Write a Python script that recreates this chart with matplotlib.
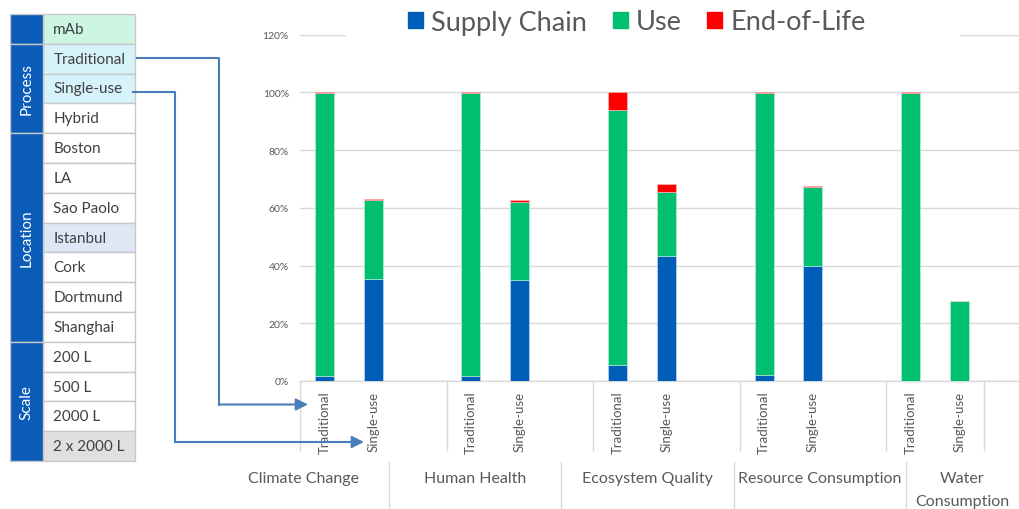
import matplotlib
matplotlib.use("Agg")
import matplotlib.pyplot as plt
from matplotlib.patches import Rectangle, FancyArrowPatch
import numpy as np

plt.rcParams['font.family'] = ['Lato', 'DejaVu Sans']

# chart data (fractions of the traditional process)
categories = ["Climate Change", "Human Health", "Ecosystem Quality",
              "Resource Consumption", "Water\nConsumption"]
processes = ["Traditional", "Single-use"]
supply_trad = [0.018, 0.018, 0.055, 0.021, 0.000]
use_trad = [0.979, 0.979, 0.884, 0.977, 0.998]
eol_trad = [0.003, 0.003, 0.061, 0.002, 0.002]
supply_su = [0.354, 0.351, 0.432, 0.400, 0.000]
use_su = [0.272, 0.269, 0.222, 0.273, 0.276]
eol_su = [0.004, 0.007, 0.028, 0.002, 0.000]
series = ["Supply Chain", "Use", "End-of-Life"]
colors = ["#005eb8", "#00bf6f", "#ff0000"]

# side table
table_top = "mAb"
groups = ["Process", "Location", "Scale"]
group_items = [["Traditional", "Single-use", "Hybrid"],
               ["Boston", "LA", "Sao Paolo", "Istanbul", "Cork", "Dortmund", "Shanghai"],
               ["200 L", "500 L", "2000 L", "2 x 2000 L"]]
highlight = {"mAb": "#ccf5e4", "Traditional": "#d6f3fb", "Single-use": "#d6f3fb",
             "Istanbul": "#dde7f6", "2 x 2000 L": "#e0e0e0"}

W, H = 1019, 510
def fx(x):
    return x / W
def fy(y):
    return 1 - y / H

grey_txt = "#595959"
grid_c = "#d9d9d9"

fig = plt.figure(figsize=(W / 100, H / 100), dpi=100)
ax = fig.add_axes([fx(300), fy(382), fx(1019) - fx(300), fy(35.7) - fy(382)])

n = len(categories)
x_trad = np.arange(n) * 3
x_su = x_trad + 1
bw = 0.39

s_tr = np.array(supply_trad); u_tr = np.array(use_trad); e_tr = np.array(eol_trad)
s_su = np.array(supply_su); u_su = np.array(use_su); e_su = np.array(eol_su)

for xs, s, u, e in [(x_trad, s_tr, u_tr, e_tr), (x_su, s_su, u_su, e_su)]:
    ax.bar(xs, s, bw, color=colors[0], edgecolor="#cfe0f5", linewidth=0.4, zorder=3)
    ax.bar(xs, u, bw, bottom=s, color=colors[1], edgecolor="#c9f0de", linewidth=0.4, zorder=3)
    ax.bar(xs, e, bw, bottom=s + u, color=colors[2], edgecolor="#ffc8c8", linewidth=0.4, zorder=3)

ax.set_xlim(-0.5, 14.22)
ax.set_ylim(0, 1.2)
ax.set_yticks(np.arange(0, 1.21, 0.2))
ax.set_yticklabels([f"{int(round(v * 100))}%" for v in np.arange(0, 1.21, 0.2)])
ax.yaxis.grid(True, color=grid_c, linewidth=1)
ax.set_axisbelow(True)
for sp in ax.spines.values():
    sp.set_visible(False)
ax.tick_params(axis="y", length=0, labelsize=7.5, labelcolor=grey_txt, pad=8)

ticks = np.concatenate([x_trad, x_su])
ax.set_xticks(ticks)
ax.set_xticklabels([processes[0]] * n + [processes[1]] * n, rotation=90,
                   fontsize=9.5, color=grey_txt, va="top")
ax.tick_params(axis="x", length=0, pad=7)

# category separators in the label area
bounds = [-0.5] + [3 * i + 2.5 for i in range(n - 1)] + [3 * (n - 1) + 1.5]
for b in bounds:
    ax.plot([b, b], [0, -0.24], color=grid_c, lw=1, clip_on=False)
ax.plot([-0.5, 14.22], [0, 0], color=grid_c, lw=1, clip_on=False, zorder=2)

# white box behind legend (hides part of top gridline)
fig.add_artist(Rectangle((fx(346), fy(40)), fx(960) - fx(346), fy(0) - fy(40),
                         transform=fig.transFigure, facecolor="white",
                         edgecolor="none", zorder=5))
handles = [Rectangle((0, 0), 1, 1, color=c) for c in colors]
leg = fig.legend(handles, series, loc="center", bbox_to_anchor=(fx(637), fy(23)),
                 ncol=3, frameon=False, fontsize=19.5, handlelength=0.55,
                 handleheight=0.55, handletextpad=0.3, columnspacing=0.95,
                 labelcolor=grey_txt)
leg.set_zorder(6)

# bottom category row
cell_edges = [217, 389, 561, 734, 906, 1019]
for i, cat in enumerate(categories):
    cx = (cell_edges[i] + cell_edges[i + 1]) / 2
    fig.text(fx(cx), fy(472), cat, ha="center", va="top", fontsize=11.5,
             color=grey_txt, linespacing=1.8)
    if i > 0:
        fig.add_artist(plt.Line2D([fx(cell_edges[i])] * 2, [fy(463), fy(510)],
                                  color=grid_c, lw=1))

# side table
x0, xb, x1 = 10.3, 43.3, 135
rh = 29.8
y = 15
tc = "#c8c8c8"
blue = "#0a5cb8"
fig.add_artist(Rectangle((fx(xb), fy(y + rh)), fx(x1) - fx(xb), rh / H,
                         facecolor=highlight.get(table_top, "white"), edgecolor=tc, lw=1))
fig.add_artist(Rectangle((fx(x0), fy(y + rh)), fx(xb) - fx(x0), rh / H,
                         facecolor=blue, edgecolor=tc, lw=1))
fig.text(fx(xb + 10), fy(y + rh / 2), table_top, ha="left", va="center",
         fontsize=11, color="#404040")
y += rh
for g, items in zip(groups, group_items):
    gy0 = y
    for it in items:
        fig.add_artist(Rectangle((fx(xb), fy(y + rh)), fx(x1) - fx(xb), rh / H,
                                 facecolor=highlight.get(it, "white"), edgecolor=tc, lw=1))
        fig.text(fx(xb + 10), fy(y + rh / 2), it, ha="left", va="center",
                 fontsize=11, color="#404040")
        y += rh
    fig.add_artist(Rectangle((fx(x0), fy(y)), fx(xb) - fx(x0), (y - gy0) / H,
                             facecolor=blue, edgecolor=tc, lw=1))
    fig.text(fx((x0 + xb) / 2), fy((gy0 + y) / 2), g, rotation=90, ha="center",
             va="center", fontsize=11, color="white")

# connector arrows
arrow_c = "#4a7ebb"
for (sx, sy, vx, ey, tx) in [(137.3, 59.3, 219, 405.5, 308), (133.3, 93.3, 175, 443, 364)]:
    fig.add_artist(plt.Line2D([fx(sx), fx(vx), fx(vx)], [fy(sy), fy(sy), fy(ey)],
                              color=arrow_c, lw=1.5))
    fig.add_artist(FancyArrowPatch((fx(vx), fy(ey)), (fx(tx), fy(ey)),
                                   transform=fig.transFigure, arrowstyle="-|>",
                                   mutation_scale=18, color=arrow_c, lw=1.5,
                                   shrinkA=0, shrinkB=0))

fig.savefig("out.png", dpi=100)
